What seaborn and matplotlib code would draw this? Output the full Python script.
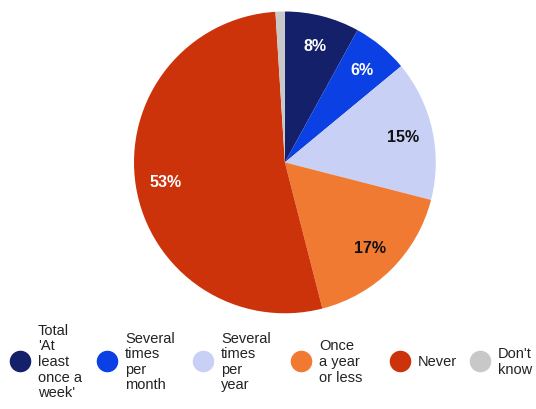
import matplotlib
matplotlib.use("Agg")
import matplotlib.pyplot as plt
from matplotlib import font_manager
from matplotlib.lines import Line2D
import seaborn as sns

# survey answers, clockwise from the top
categories = ["Total\n'At\nleast\nonce a\nweek'", "Several\ntimes\nper\nmonth",
              "Several\ntimes\nper\nyear", "Once\na year\nor less", "Never", "Don't\nknow"]
shares = [8, 6, 15, 17, 53, 1]
colors = ["#15206a", "#0a40e4", "#c9d0f5", "#f07a32", "#cc330a", "#c8c8c8"]
label_colors = ["white", "white", "#111111", "#111111", "white", "white"]

sns.set_theme(style="white")
plt.rcParams["font.family"] = ["Liberation Sans", "DejaVu Sans"]

# legend text in the original is a narrow sans
names = {f.name for f in font_manager.fontManager.ttflist}
if "Liberation Sans Narrow" in names:
    legend_font, legend_size = "Liberation Sans Narrow", 12.5
else:
    legend_font, legend_size = "Liberation Sans", 10.5
print(legend_font)

fig = plt.figure(figsize=(5.36, 4.10), dpi=100)
ax = fig.add_axes([0.250, 0.233, 0.563, 0.737])

wedges, texts, autotexts = ax.pie(
    shares, colors=colors, startangle=90, counterclock=False,
    autopct=lambda p: f"{p:.0f}%" if p >= 2 else "",
    pctdistance=0.8, wedgeprops={"linewidth": 0},
    textprops={"fontsize": 11.5, "fontweight": "bold"})
for t, c in zip(autotexts, label_colors):
    t.set_color(c)
ax.set_xlim(-1, 1)
ax.set_ylim(-1, 1)
ax.set_aspect("equal")

# one small legend per answer so each sits where it does in the original
legend_x = [10, 97, 193, 291, 390, 470]  # left edge of each marker, px
for name, c, x in zip(categories, colors, legend_x):
    h = Line2D([], [], linestyle="none", marker="o", markersize=14.5,
               markerfacecolor=c, markeredgecolor=c)
    leg = fig.legend([h], [name], loc="center left",
                     bbox_to_anchor=(x / 536, 48 / 410), frameon=False,
                     prop={"family": legend_font, "size": legend_size},
                     handlelength=20 / (legend_size * 100 / 72),
                     handletextpad=8 / (legend_size * 100 / 72),
                     borderpad=0, borderaxespad=0)
    # centre the marker on the block of text instead of its last line
    for col in leg._legend_handle_box.get_children():
        for item in col.get_children():
            item.align = "center"
    for t in leg.get_texts():
        t.set_color("#222222")
        t.set_linespacing(0.95 if legend_size > 11 else 1.15)

fig.savefig("out.png", dpi=100)
